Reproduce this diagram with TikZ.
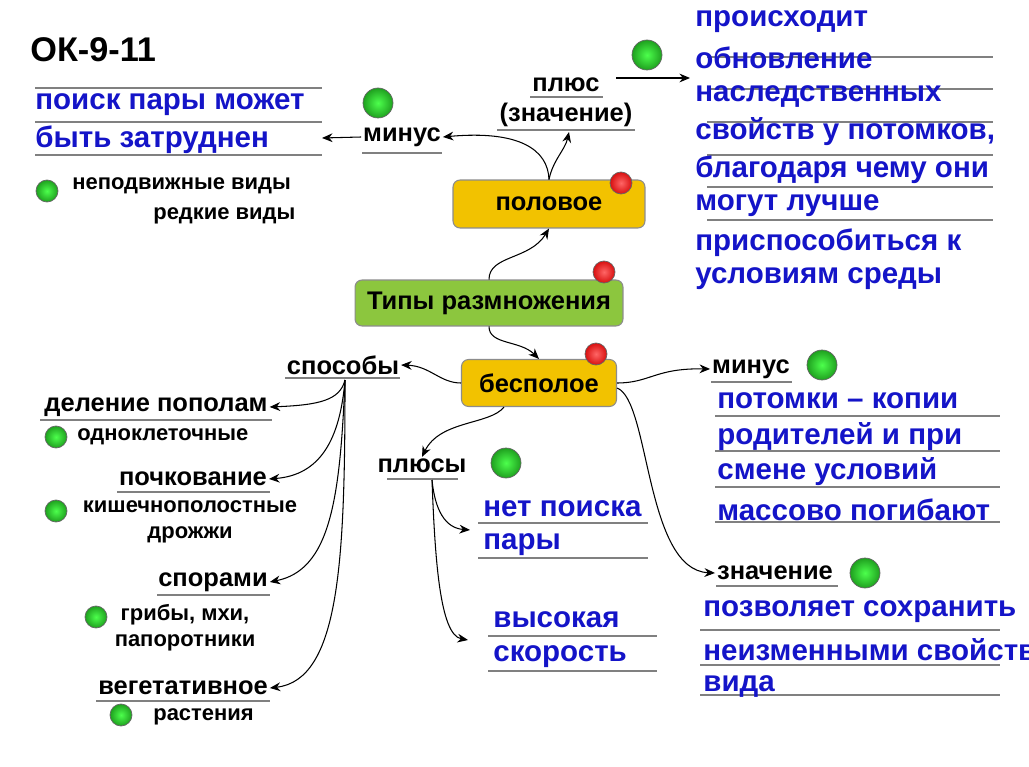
\documentclass[tikz,border=0pt]{standalone}
\usepackage{fontspec}
\setmainfont{Liberation Sans}
\usetikzlibrary{arrows.meta}
\definecolor{tblue}{HTML}{1414C8}
\definecolor{gold}{HTML}{F2C200}
\definecolor{lgreen}{HTML}{8CC63E}
\definecolor{dotg}{HTML}{1FA01F}
\definecolor{dotr}{HTML}{D81010}
\tikzset{
  bl/.style={font=\bfseries\fontsize{16.8}{17}\selectfont, text=tblue, anchor=west, inner sep=0pt},
  lab/.style={font=\bfseries\fontsize{14.5}{17}\selectfont, anchor=center, inner sep=1pt},
  sm/.style={font=\bfseries\fontsize{12.5}{15}\selectfont, anchor=west, inner sep=0pt},
  box/.style={draw=black!45, rounded corners=4pt, font=\bfseries\fontsize{14.5}{15}\selectfont, inner sep=0pt, line width=0.6pt},
  ul/.style={draw=black!50, line width=0.6pt},
  arr/.style={-{Stealth[length=6pt,width=5pt]}, line width=0.6pt},
  gdot/.style={circle, draw=black!60, inner color=green!70!white, outer color=dotg, minimum size=#1, inner sep=0pt},
  rdot/.style={circle, draw=black!60, inner color=red!60!white, outer color=dotr, minimum size=0.44cm, inner sep=0pt}
}
\begin{document}
\begin{tikzpicture}[x=0.02cm,y=-0.02cm]
\useasboundingbox (0,0) rectangle (1029,767);
\fill[white] (0,0) rectangle (1029,767);
\node[font=\bfseries\fontsize{19.5}{20}\selectfont, anchor=west, inner sep=0pt] (title) at (30,50) {ОК-9-11};

% boxes
\node[box, fill=gold, minimum width=3.84cm, minimum height=0.96cm] (pol) at (549,204) {половое};
\node[box, fill=lgreen, minimum width=5.36cm, minimum height=0.92cm] (tip) at (489,303) {Типы размножения};
\node[box, fill=gold, minimum width=3.1cm, minimum height=0.94cm] (bes) at (539,383) {бесполое};
\node[rdot] (r1) at (621,183) {};
\node[rdot] (r2) at (604,272) {};
\node[rdot] (r3) at (596,354) {};

% labels
\node[lab] (minus1) at (402,137) {минус};
\draw[ul] (362,153) -- (442,153);
\node[lab, align=center] (plus1) at (566,102) {плюс\\(значение)};
\draw[ul] (530,97) -- (603,97);
\draw[ul] (497,130) -- (635,130);
\node[lab] (spos) at (343,365) {способы};
\draw[ul] (285,378) -- (400,378);
\node[lab] (del) at (156,407) {деление пополам};
\draw[ul] (40,420) -- (272,420);
\node[lab] (poch) at (193,479) {почкование};
\draw[ul] (117,492) -- (270,492);
\node[lab] (spor) at (213,582) {спорами};
\draw[ul] (157,595) -- (270,595);
\node[lab] (veg) at (183,688) {вегетативное};
\draw[ul] (96,701) -- (270,701);
\node[lab] (plusy) at (422,466) {плюсы};
\draw[ul] (387,479) -- (458,479);
\node[lab] (minus2) at (751,369) {минус};
\draw[ul] (711,382) -- (792,382);
\node[lab] (znach) at (775,573) {значение};
\draw[ul] (716,586) -- (838,586);

% small text
\node[sm] (s1) at (72,186) {неподвижные виды};
\node[sm] (s2) at (153,216) {редкие виды};
\node[sm] (s3) at (77,437) {одноклеточные};
\node[sm, align=center, anchor=north] (s4) at (190,500) {кишечнополостные\\дрожжи};
\node[sm, align=center, anchor=north] (s5) at (185,604) {грибы, мхи,\\папоротники};
\node[sm] (s6) at (153,717) {растения};

% green dots
\node[gdot=0.6cm] at (647,55) {};
\node[gdot=0.6cm] at (378,103) {};
\node[gdot=0.44cm] at (47,191) {};
\node[gdot=0.6cm] at (822,365) {};
\node[gdot=0.6cm] at (506,463) {};
\node[gdot=0.44cm] at (56,437) {};
\node[gdot=0.44cm] at (56,511) {};
\node[gdot=0.44cm] at (96,617) {};
\node[gdot=0.44cm] at (121,715) {};
\node[gdot=0.6cm] at (865,573) {};

% blue texts
\foreach \y in {57,89,122,155,187,220} \draw[ul] (707,\y) -- (993,\y);
\foreach \t/\y in {происходит/22, обновление/58, наследственных/96, {свойств у потомков,}/132, {благодаря чему они}/170, {могут лучше}/206, {приспособиться к}/243, {условиям среды}/279}
  \node[bl] at (695,\y) {\t};
\foreach \y in {88,122,155} \draw[ul] (35,\y) -- (322,\y);
\node[bl] (b1) at (35,105) {поиск пары может};
\node[bl] (b2) at (35,140) {быть затруднен};
\foreach \y in {416,451,487,522} \draw[ul] (715,\y) -- (1000,\y);
\foreach \t/\y in {{потомки – копии}/401, {родителей и при}/437, {смене условий}/472, {массово погибают}/510}
  \node[bl] at (717,\y) {\t};
\draw[ul] (478,523) -- (648,523);
\draw[ul] (478,558) -- (648,558);
\node[bl] (n1) at (483,509) {нет поиска};
\node[bl] (n2) at (483,545) {пары};
\draw[ul] (488,636) -- (657,636);
\draw[ul] (488,671) -- (657,671);
\node[bl] (v1) at (493,620) {высокая};
\node[bl] (v2) at (493,657) {скорость};
\foreach \y in {630,665,695} \draw[ul] (700,\y) -- (1000,\y);
\foreach \t/\y in {{позволяет сохранить}/612, {неизменными свойства}/650, {вида}/686}
  \node[bl] at (703,\y) {\t};

% connectors
\draw[arr] (tip.north) .. controls (489,255) and (530,260) .. (pol.south);
\draw[arr] (tip.south) .. controls (489,345) and (520,340) .. (bes.north);
\draw[arr] (pol.north) .. controls (548,150) and (520,130) .. (minus1.east);
\draw[arr] (minus1.west) -- (322,138);
\draw[arr] (pol.north) .. controls (553,160) and (565,150) .. (569,132);
\draw[arr] (616,78) -- (690,78);
\draw[arr] (bes.west) .. controls (440,383) and (430,366) .. (spos.east);
\coordinate (sp) at (345,380);
\draw[arr] (sp) .. controls (340,400) and (320,405) .. (del.east);
\draw[arr] (sp) .. controls (340,440) and (320,475) .. (poch.east);
\draw[arr] (sp) .. controls (340,500) and (330,570) .. (spor.east);
\draw[arr] (sp) .. controls (345,560) and (340,680) .. (veg.east);
\draw[arr] ([xshift=-0.7cm]bes.south) .. controls (490,425) and (440,420) .. (plusy.north);
\coordinate (pp) at (432,480);
\draw[arr] (pp) .. controls (435,510) and (445,528) .. (470,530);
\draw[arr] (pp) .. controls (435,560) and (440,635) .. (468,640);
\draw[arr] (bes.east) .. controls (650,383) and (655,368) .. (minus2.west);
\draw[arr] ([yshift=-0.1cm]bes.east) .. controls (650,400) and (645,570) .. (znach.west);
\end{tikzpicture}
\end{document}
